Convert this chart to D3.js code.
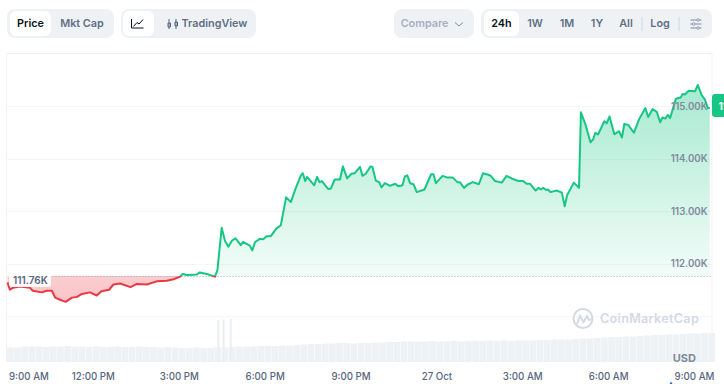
<!DOCTYPE html>
<html>
<head>
<meta charset="utf-8">
<title>Price chart</title>
<script src="https://cdn.jsdelivr.net/npm/d3@7"></script>
<style>
    html, body { margin: 0; padding: 0; background: #fff; overflow: hidden; }
    svg { display: block; font-family: Inter, "Noto Sans", sans-serif; }
</style>
</head>
<body>
<svg width="724" height="384"></svg>
<script>
// minutes after 9:00 AM
const priceMinutes = [1,6,13,27,48,54,73,83,94,101,111,123,136,146,157,174,188,198,214,223,237,259,272,293,314,335,349,363,
    368,377,398,404,419,436,441,450,457,464,471,479,490,495,509,514,520,530,537,544,553,564,574,585,595,605,616,620,625,629,644,650,655,660,673,679,687,698,
    704,713,722,729,740,745,752,762,766,773,780,785,792,803,814,820,829,834,839,845,852,859,875,889,894,899,913,922,934,944,949,958,965,976,989,998,1009,1014,1023,1037,1047,1058,1072,1082,1089,1096,
    1108,1114,1119,1124,1130,1134,1139,1152,1163,1169,1174,1188,1199,1203,1212,1223,1229,1233,1239,1252,1257,1263,1273,1283,1289,1294,1302,1314,1325,1338,1344,1353,1362,1369,1374,1380,1385,1390,
    1402,1412,1416,1421,1429,1442,1448,1456,1463,1469,1473];
// thousands of USD
const priceValues = [111.64,111.50,111.54,111.56,111.54,111.48,111.45,111.48,111.48,111.35,111.31,111.27,111.35,111.36,111.42,111.45,111.39,111.47,111.50,111.60,111.62,111.55,111.61,111.60,111.66,111.67,111.70,111.75,
    111.80,111.78,111.79,111.83,111.80,111.75,111.87,112.68,112.43,112.32,112.43,112.48,112.35,112.41,112.34,112.25,112.41,112.47,112.46,112.52,112.52,112.66,112.73,113.26,113.17,113.43,113.68,113.72,113.57,113.65,113.49,113.65,113.55,113.57,113.42,113.43,113.60,113.60,
    113.85,113.62,113.71,113.72,113.84,113.67,113.71,113.85,113.84,113.58,113.55,113.45,113.53,113.48,113.52,113.47,113.49,113.66,113.68,113.53,113.51,113.36,113.41,113.70,113.70,113.53,113.67,113.64,113.64,113.55,113.55,113.44,113.50,113.55,113.51,113.72,113.69,113.67,113.57,113.54,113.67,113.62,113.57,113.57,113.52,113.52,
    113.39,113.44,113.41,113.44,113.40,113.41,113.36,113.39,113.35,113.09,113.30,113.54,113.44,114.88,114.66,114.31,114.37,114.49,114.46,114.71,114.67,114.80,114.46,114.52,114.40,114.66,114.64,114.49,114.75,114.96,114.79,114.94,114.89,114.69,114.78,114.76,114.83,114.77,
    115.14,115.16,115.23,115.22,115.29,115.28,115.40,115.21,115.12,114.96,114.96];
const basePrice = 111.76;

// one bar every 15 minutes, billions of USD
const volumeValues = [29,29,31,31,31,30,31,31,32,31,31,30,31,30,30,31,30,30,31,30,30,29,30,29,28,
    28,29,28,28,30,29,30,31,31,
    31,32,32,32,33,33,34,35,
    36,36,37,37,38,38,37,38,
    38,39,39,40,40,41,41,41,
    41,42,41,41,42,41,42,42,
    42,43,42,43,42,43,43,43,
    44,44,45,45,45,46,47,47,
    48,49,50,50,51,51,52,53,54,
    54,55,55,56,57,57,58,58];
const volumeSpikeMinutes = [443,454,469];
const volumeSpikeValues = [84,85,86];

const timeTicks = [0,180,360,540,720,900,1080,1260,1440];
const timeLabels = ['9:00 AM','12:00 PM','3:00 PM','6:00 PM','9:00 PM','27 Oct','3:00 AM','6:00 AM','9:00 AM'];
const priceTicks = [112,113,114,115];
const gridTicks = [111,112,113,114,115];

const svg = d3.select('svg');
const frame = { left: 6.5, right: 712, top: 53.5, bottom: 362 };
const green = '#16c784';
const red = '#ea3943';

const mapX = d3.scaleLinear().domain([0, 1440]).range([7, 694]);
const mapY = d3.scaleLinear().domain([112, 115]).range([263.5, 106]);
const mapVol = d3.scaleLinear().domain([0, 80]).range([362, 322]);
const prices = priceValues.map((v, i) => ({ t: priceMinutes[i], v }));

//---- Top buttons
const bar = svg.append('g').attr('class', 'toolbar');
function pill(x, y, w, h, fill, r) {
    bar.append('rect').attr('x', x).attr('y', y).attr('width', w).attr('height', h).attr('rx', r).attr('fill', fill);
}
function label(text, x, color, weight) {
    bar.append('text').attr('x', x).attr('y', 27.3).attr('text-anchor', 'middle')
        .attr('font-size', 10.8).attr('font-weight', weight).attr('fill', color).text(text);
}
pill(7, 9, 107, 29, '#eff2f5', 8);
pill(10, 11, 41, 25, '#fff', 6);
label('Price', 30.5, '#0d1421', 600);
label('Mkt Cap', 82, '#616e85', 600);

pill(121, 9, 135, 29, '#eff2f5', 8);
pill(123, 11, 31, 25, '#fff', 6);
bar.append('path').attr('d', 'M131.5 19v9h12M133.5 26.5l3.5-4 2 1.500 4-4.500').attr('fill', 'none').attr('stroke', '#0d1421').attr('stroke-width', 1);
bar.append('path').attr('d', 'M169 19v10M176 19v10M175 22h2.500v4h-2.500zM168 23h2.500v4h-2.500z').attr('fill', 'none').attr('stroke', '#58667e').attr('stroke-width', 1);
label('TradingView', 214.5, '#616e85', 600);

pill(394, 9, 80, 29, '#eff2f5', 8);
label('Compare', 424.500, '#a6b0c3', 600);
bar.append('path').attr('d', 'M455 22.500l4 3.500 4-3.500').attr('fill', 'none').attr('stroke', '#808a9d').attr('stroke-width', 1);

pill(481, 9, 231, 29, '#eff2f5', 8);
pill(484, 11, 35, 25, '#fff', 6);
label('24h', 501.500, '#0d1421', 600);
label('1W', 535, '#616e85', 600);
label('1M', 567, '#616e85', 600);
label('1Y', 597, '#616e85', 600);
label('All', 626, '#616e85', 600);
label('Log', 660, '#616e85', 600);
bar.append('path').attr('d', 'M642 17v14M679 17v14').attr('stroke', '#cfd6e4').attr('stroke-width', 1);
bar.append('path').attr('d', 'M690.500 20h11M690.500 24h11M690.500 28h11').attr('stroke', '#808a9d').attr('stroke-width', 1);
bar.append('g').selectAll('circle').data([[698, 20], [693.5, 24], [698, 28]]).join('circle')
    .attr('cx', d => d[0]).attr('cy', d => d[1]).attr('r', 1.3)
    .attr('fill', '#eff2f5').attr('stroke', '#808a9d').attr('stroke-width', 0.8);

//---- Frame and grid
svg.append('path')
    .attr('d', `M${frame.left} ${frame.bottom}V${frame.top}H${frame.right}V${frame.bottom}`)
    .attr('fill', 'none').attr('stroke', '#eff2f5');
svg.append('g').attr('class', 'grid').selectAll('line').data(gridTicks).join('line')
    .attr('x1', frame.left).attr('x2', frame.right)
    .attr('y1', d => Math.round(mapY(d)) + 0.5).attr('y2', d => Math.round(mapY(d)) + 0.5)
    .attr('stroke', '#f3f5f8');

//---- Gradients and clips for the part above and below the opening price
const defs = svg.append('defs');
const upGrad = defs.append('linearGradient').attr('id', 'upGrad')
    .attr('gradientUnits', 'userSpaceOnUse').attr('x1', 0).attr('x2', 0).attr('y1', 85).attr('y2', mapY(basePrice));
upGrad.append('stop').attr('offset', 0).attr('stop-color', green).attr('stop-opacity', 0.38);
upGrad.append('stop').attr('offset', 1).attr('stop-color', green).attr('stop-opacity', 0.05);
const downGrad = defs.append('linearGradient').attr('id', 'downGrad')
    .attr('gradientUnits', 'userSpaceOnUse').attr('x1', 0).attr('x2', 0).attr('y1', mapY(basePrice)).attr('y2', 302);
downGrad.append('stop').attr('offset', 0).attr('stop-color', red).attr('stop-opacity', 0.25);
downGrad.append('stop').attr('offset', 1).attr('stop-color', red).attr('stop-opacity', 0.3);
defs.append('clipPath').attr('id', 'clipUp').append('rect')
    .attr('x', 0).attr('y', 0).attr('width', 724).attr('height', mapY(basePrice));
defs.append('clipPath').attr('id', 'clipDown').append('rect')
    .attr('x', 0).attr('y', mapY(basePrice)).attr('width', 724).attr('height', 384);

//---- Volume
svg.append('g').attr('class', 'volume').selectAll('rect').data(volumeValues).join('rect')
    .attr('x', (d, i) => mapX(i * 15))
    .attr('y', d => mapVol(d))
    .attr('width', mapX(15) - mapX(0) - 0.4)
    .attr('height', d => mapVol(0) - mapVol(d))
    .attr('fill', '#eff2f5');
svg.append('g').attr('class', 'spikes').selectAll('rect').data(volumeSpikeValues).join('rect')
    .attr('x', (d, i) => mapX(volumeSpikeMinutes[i]) - 1)
    .attr('y', d => mapVol(d))
    .attr('width', 2)
    .attr('height', d => mapVol(0) - mapVol(d))
    .attr('fill', '#eaeef2');

//---- Watermark
const mark = svg.append('g').attr('class', 'watermark');
mark.append('circle').attr('cx', 583).attr('cy', 318.5).attr('r', 9.5)
    .attr('fill', 'none').attr('stroke', '#d3dae6').attr('stroke-width', 2);
mark.append('path').attr('d', 'M577 324l3-8 3.500 6 3.500-6 2 4 3-1').attr('fill', 'none')
    .attr('stroke', '#d3dae6').attr('stroke-width', 2);
mark.append('text').attr('x', 600).attr('y', 323).attr('font-size', 12.6).attr('font-weight', 600)
    .attr('letter-spacing', 0.3).attr('fill', '#d3dae6').text('CoinMarketCap');

//---- Price areas and line
const area = d3.area().x(d => mapX(d.t)).y0(mapY(basePrice)).y1(d => mapY(d.v));
const line = d3.line().x(d => mapX(d.t)).y(d => mapY(d.v));

svg.append('path').datum(prices).attr('d', area).attr('fill', 'url(#upGrad)').attr('clip-path', 'url(#clipUp)');
svg.append('path').datum(prices).attr('d', area).attr('fill', 'url(#downGrad)').attr('clip-path', 'url(#clipDown)');

svg.append('line').attr('x1', mapX(20)).attr('x2', frame.right)
    .attr('y1', Math.round(mapY(basePrice)) + 0.5).attr('y2', Math.round(mapY(basePrice)) + 0.5)
    .attr('stroke', '#a6a0a8').attr('stroke-width', 1).attr('stroke-dasharray', '1 2');

svg.append('path').datum(prices).attr('d', line).attr('fill', 'none').attr('stroke', green).attr('stroke-width', 2)
    .attr('stroke-linejoin', 'round').attr('clip-path', 'url(#clipUp)');
svg.append('path').datum(prices).attr('d', line).attr('fill', 'none').attr('stroke', red).attr('stroke-width', 2)
    .attr('stroke-linejoin', 'round').attr('clip-path', 'url(#clipDown)');

//---- Opening price tag
svg.append('rect').attr('x', 9).attr('y', 274.5).attr('width', 42).attr('height', 12.5).attr('rx', 3)
    .attr('fill', '#fff').attr('fill-opacity', 0.92);
svg.append('text').attr('x', 13).attr('y', 283.5).attr('font-size', 10).attr('font-weight', 600)
    .attr('fill', '#58667e').text(basePrice.toFixed(2) + 'K');

//---- Axes
const xAxis = d3.axisBottom(mapX).tickValues(timeTicks).tickSize(0).tickPadding(0)
    .tickFormat((d, i) => timeLabels[i]);
const axisX = svg.append('g').attr('class', 'x axis').attr('transform', 'translate(0, 373.5)').call(xAxis);
axisX.select('.domain').remove();
axisX.selectAll('text')
    .attr('font-family', 'Inter, sans-serif').attr('font-size', 9.7).attr('font-weight', 500).attr('fill', '#58667e')
    .attr('text-anchor', (d, i) => i === 0 ? 'start' : 'middle')
    .attr('dx', (d, i) => i === 0 ? 1.5 : 0);

const yAxis = d3.axisLeft(mapY).tickValues(priceTicks).tickSize(0).tickPadding(0)
    .tickFormat(d => d.toFixed(2) + 'K');
const axisY = svg.append('g').attr('class', 'y axis').attr('transform', 'translate(707.5, 0)').call(yAxis);
axisY.select('.domain').remove();
axisY.selectAll('text')
    .attr('font-family', 'Inter, sans-serif').attr('font-size', 9.7).attr('font-weight', 600).attr('fill', '#808a9d');

svg.append('text').attr('x', 696).attr('y', 362).attr('text-anchor', 'end').attr('font-size', 11)
    .attr('font-weight', 700).attr('fill', '#808a9d').text('USD');

//---- Current price tag, runs off the page like the original
const lastPrice = priceValues[priceValues.length - 1];
svg.append('rect').attr('x', 712).attr('y', 94).attr('width', 50).attr('height', 23).attr('rx', 3).attr('fill', green);
svg.append('text').attr('x', 718.5).attr('y', 109.500).attr('font-size', 10).attr('font-weight', 700)
    .attr('fill', '#fff').text(lastPrice.toFixed(2) + 'K');

//---- Small blue mark on the bottom edge
svg.append('path').attr('d', 'M669.500 384l1.500-2.500 1.500 2.500z').attr('fill', '#3861fb');
</script>
</body>
</html>
